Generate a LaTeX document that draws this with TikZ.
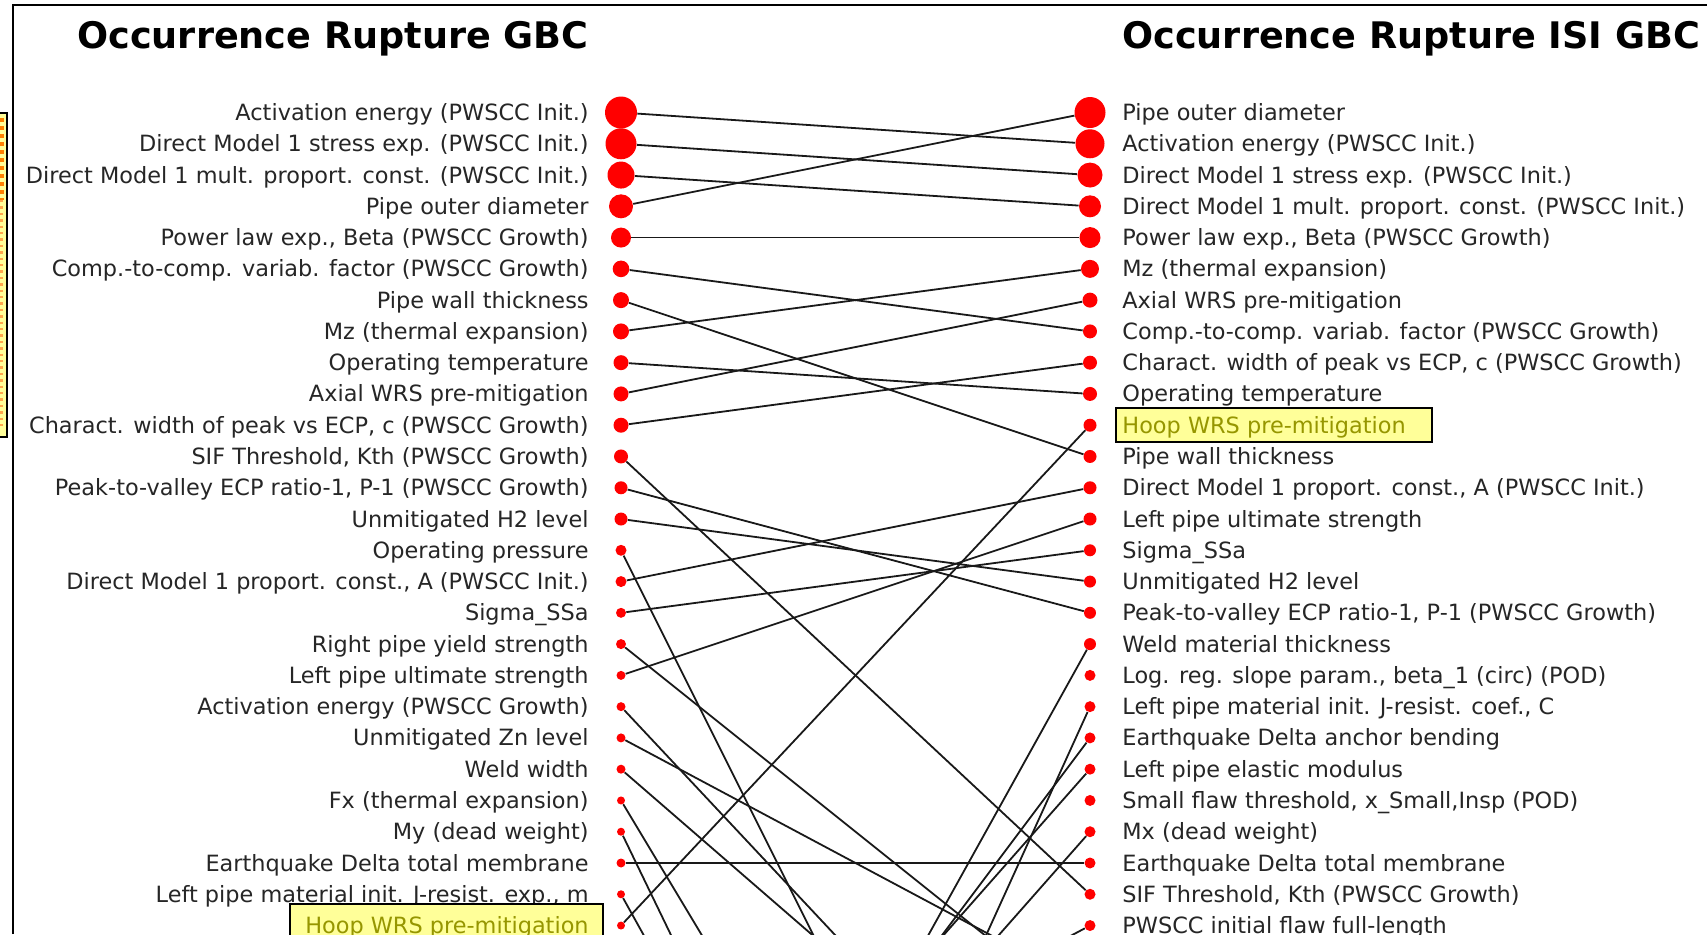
\documentclass[tikz,border=0pt]{standalone}
\usepackage{fontspec}
\setmainfont{DejaVu Sans}
\definecolor{hlfill}{RGB}{255,255,153}
\definecolor{hltext}{RGB}{150,150,0}
\begin{document}
\begin{tikzpicture}[x=0.5pt, y=-0.5pt,
    dot/.style={circle, fill=red, inner sep=0pt},
    lab/.style={font=\fontsize{11.2}{13}\selectfont, text=black!85, inner sep=0pt},
    ttl/.style={font=\fontsize{18.3}{22}\selectfont\bfseries, inner sep=0pt},
    hlbox/.style={draw=black, fill=hlfill, line width=1pt},
    link/.style={line width=0.9pt, black!90}]
  \useasboundingbox (0,0) rectangle (1707,934);
  \clip (0,0) rectangle (1707,934);
  \fill[white] (0,0) rectangle (1707,934);

  % frame, and the box cut off at the left edge
  \draw[line width=1.2pt] (13,934) -- (13,5) -- (1707,5);
  \draw[hlbox] (-10,113) rectangle (7,437);
  \draw[orange, line width=2pt, dotted] (1.5,118) -- (1.5,200);
  \draw[orange!70, line width=1.2pt, dotted] (1.5,200) -- (1.5,430);

  \node[ttl, anchor=base east] (tl) at (589,48) {Occurrence Rupture GBC};
  \node[ttl, anchor=base west] (tr) at (1122,48) {Occurrence Rupture ISI GBC};

  % left ranking
  \foreach \t [count=\i from 0] in {
      {Activation energy (PWSCC Init.)},
      {Direct Model 1 stress exp. (PWSCC Init.)},
      {Direct Model 1 mult. proport. const. (PWSCC Init.)},
      {Pipe outer diameter},
      {Power law exp., Beta (PWSCC Growth)},
      {Comp.-to-comp. variab. factor (PWSCC Growth)},
      {Pipe wall thickness},
      {Mz (thermal expansion)},
      {Operating temperature},
      {Axial WRS pre-mitigation},
      {Charact. width of peak vs ECP, c (PWSCC Growth)},
      {SIF Threshold, Kth (PWSCC Growth)},
      {Peak-to-valley ECP ratio-1, P-1 (PWSCC Growth)},
      {Unmitigated H2 level},
      {Operating pressure},
      {Direct Model 1 proport. const., A (PWSCC Init.)},
      {Sigma\_SSa},
      {Right pipe yield strength},
      {Left pipe ultimate strength},
      {Activation energy (PWSCC Growth)},
      {Unmitigated Zn level},
      {Weld width},
      {Fx (thermal expansion)},
      {My (dead weight)},
      {Earthquake Delta total membrane},
      {Left pipe material init. J-resist. exp., m}}
    \node[lab, anchor=base east] (ll\i) at (589, {120.5+31.27*\i}) {\t};
  \draw[hlbox] (290,904) rectangle (603,960);
  \node[lab, text=hltext, anchor=base east] (ll26) at (589, {120.5+31.27*26}) {Hoop WRS pre-mitigation};

  % right ranking
  \draw[hlbox] (1116,408) rectangle (1432,442);
  \foreach \t [count=\i from 0] in {
      {Pipe outer diameter},
      {Activation energy (PWSCC Init.)},
      {Direct Model 1 stress exp. (PWSCC Init.)},
      {Direct Model 1 mult. proport. const. (PWSCC Init.)},
      {Power law exp., Beta (PWSCC Growth)},
      {Mz (thermal expansion)},
      {Axial WRS pre-mitigation},
      {Comp.-to-comp. variab. factor (PWSCC Growth)},
      {Charact. width of peak vs ECP, c (PWSCC Growth)},
      {Operating temperature},
      {\color{hltext}Hoop WRS pre-mitigation},
      {Pipe wall thickness},
      {Direct Model 1 proport. const., A (PWSCC Init.)},
      {Left pipe ultimate strength},
      {Sigma\_SSa},
      {Unmitigated H2 level},
      {Peak-to-valley ECP ratio-1, P-1 (PWSCC Growth)},
      {Weld material thickness},
      {Log. reg. slope param., beta\_1 (circ) (POD)},
      {Left pipe material init. J-resist. coef., C},
      {Earthquake Delta anchor bending},
      {Left pipe elastic modulus},
      {Small flaw threshold, x\_Small,Insp (POD)},
      {Mx (dead weight)},
      {Earthquake Delta total membrane},
      {SIF Threshold, Kth (PWSCC Growth)},
      {PWSCC initial flaw full-length}}
    \node[lab, anchor=base west] (rl\i) at (1122, {120.5+31.27*\i}) {\t};

  % dots, size falls with rank
  \foreach \r [count=\i from 0] in {16,15.5,13.5,12,10,8.3,8,8,7.5,7.5,7.5,7,6.5,
      6.5,5.5,5.5,5,5,4.5,4.5,4.5,4.5,4,4,4.5,4,4}
    \node[dot, minimum size=\r pt] (l\i) at (621, {112.5+31.27*\i}) {};
  \foreach \r [count=\i from 0] in {15.5,14.5,12.5,11,10.5,9,7.5,7,7,7,6.5,6.5,6.5,
      6.5,6,6,6,6,5.5,5.5,5.5,5.5,5.5,5.5,5.5,5.5,5.5}
    \node[dot, minimum size=\r pt] (r\i) at (1090, {112.5+31.27*\i}) {};
  % ranks below the cut
  \foreach \k in {28,29,34,35,44,47,52,54}
    \coordinate (r\k) at (1090, {112.5+31.27*\k});
  \foreach \k in {34,38,40,44,52}
    \coordinate (l\k) at (621, {112.5+31.27*\k});

  \foreach \a/\b in {0/1,1/2,2/3,3/0,4/4,5/7,6/11,7/5,8/9,9/6,10/8,11/25,12/16,
      13/15,14/44,15/12,16/14,17/29,18/13,19/35,20/28,21/34,22/47,23/54,24/24,
      25/52,26/10,44/17,52/19,40/20,38/21,40/23,34/26}
    \draw[link] (l\a) -- (r\b);
\end{tikzpicture}
\end{document}
